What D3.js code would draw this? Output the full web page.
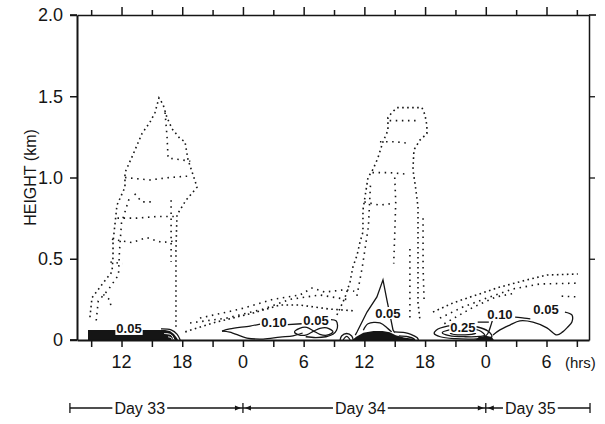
<!DOCTYPE html>
<html>
<head>
<meta charset="utf-8">
<script src="https://cdn.jsdelivr.net/npm/d3@7"></script>
<style>
  html, body { margin: 0; padding: 0; background: #fff; }
  svg { display: block; font-family: "Liberation Sans", Arial, sans-serif; }
</style>
</head>
<body>
<svg id="chart" width="605" height="424"></svg>
<script>
// ---- axis values (time in hours from 00 h of Day 33, height in km) ----
const heightTicks = [0, 0.5, 1.0, 1.5, 2.0];
const heightLabels = ["0", "0.5", "1.0", "1.5", "2.0"];
const hourTicks = d3.range(9, 58, 3);
const hourLabelAt = [12, 18, 24, 30, 36, 42, 48, 54];
const hourLabels = ["12", "18", "0", "6", "12", "18", "0", "6"];

const dayNames = ["Day 33", "Day 34", "Day 35"];
const dayEdges = [6.9, 24, 48, 58.3];
const dayNameAt = [13.8, 35.6, 52.4];

// ---- dotted boundaries: [hour, km]; first line of each group is the outline ----
const plumeDay33 = [
  [[8.88,0.14],[9.08,0.26],[10.17,0.35],[11.06,0.42],[11.16,0.51],[11.16,0.60],[11.55,0.83],[12.34,0.94],[12.34,1.03],[13.13,1.14],[14.02,1.27],[14.81,1.34],[15.31,1.40],[15.70,1.49],[16.10,1.45],[16.49,1.37],[16.99,1.30],[17.78,1.24],[18.27,1.22],[18.57,1.11],[19.26,0.98],[19.46,0.94],[18.37,0.86],[17.48,0.77],[17.38,0.55],[17.38,0.31],[17.38,0.06]],
  [[9.5,0.12],[9.7,0.24],[10.7,0.31],[11.7,0.40],[11.8,0.55],[12.0,0.72],[12.8,0.88]],
  [[12.34,1.00],[14.81,0.985],[16.79,1.00],[18.9,1.01]],
  [[16.3,1.40],[16.5,1.25],[16.6,1.12],[17.8,1.11],[18.8,1.10]],
  [[11.6,0.75],[13.5,0.75],[15.5,0.76],[17.4,0.76]],
  [[11.05,0.62],[13.0,0.60],[14.5,0.63],[16.0,0.60],[17.4,0.61]],
  [[16.9,0.86],[16.9,0.70],[16.9,0.48]],
  [[10.2,0.28],[10.8,0.25],[11.0,0.20]],
  [[10.9,0.48],[12.1,0.47]],
  [[13.3,0.90],[14.0,0.85],[15.0,0.85]]
];
const layerDay34am = [
  [[18.3,0.05],[21.04,0.105],[24.99,0.166],[27.66,0.215],[29.64,0.215],[32.6,0.19],[34.9,0.18]],
  [[18.77,0.105],[22.42,0.135],[25.98,0.19],[28.65,0.25],[31.6,0.277],[34.58,0.246]],
  [[19.75,0.135],[23.7,0.19],[26.97,0.25],[29.64,0.277],[30.82,0.32],[32.1,0.295],[34.1,0.31],[35.0,0.30]]
];
const plumeDay34 = [
  [[33.29,0.154],[34.08,0.26],[34.58,0.357],[34.87,0.45],[35.27,0.52],[35.56,0.60],[35.86,0.665],[35.86,0.80],[36.16,0.92],[36.36,1.00],[36.85,1.05],[37.34,1.12],[37.84,1.22],[38.33,1.29],[38.33,1.37],[38.73,1.40],[39.22,1.43],[40.51,1.43],[41.69,1.43],[41.99,1.385],[42.18,1.32],[42.18,1.27],[41.49,1.23],[40.9,1.17],[40.8,1.05],[41.1,0.92],[41.3,0.82],[41.3,0.615],[41.3,0.43],[41.3,0.23],[41.5,0.12]],
  [[38.5,1.35],[40.0,1.35],[41.5,1.35]],
  [[37.54,1.22],[39.0,1.22],[40.5,1.21]],
  [[39.0,1.0],[39.1,0.85],[39.0,0.65],[38.9,0.47]],
  [[36.8,1.03],[38.5,1.03],[40.3,1.02]],
  [[40.5,0.56],[40.5,0.35],[40.5,0.12]],
  [[36.6,0.95],[36.4,0.70],[35.8,0.45],[35.2,0.25]],
  [[36.0,0.85],[37.5,0.83],[38.8,0.84]],
  [[41.8,0.75],[41.8,0.45],[41.9,0.25]]
];
const layerDay35 = [
  [[42.78,0.172],[44.76,0.228],[46.73,0.27],[49.4,0.326],[52.07,0.37],[54.04,0.40],[57.1,0.406]],
  [[43.47,0.135],[45.74,0.203],[48.11,0.258],[50.68,0.314],[53.35,0.345],[57.1,0.35]],
  [[43.9,0.10],[46.7,0.20],[49.0,0.265],[51.0,0.29]],
  [[55.5,0.27],[57.1,0.265]]
];

// ---- solid regions near the ground ----
const fillDay33 = [[8.69,0],[8.69,0.062],[16.3,0.062],[16.79,0.055],[17.18,0.037],[17.48,0.012],[17.58,0]];
const fillDay34 = [[34.8,0],[35.2,0.02],[35.9,0.045],[36.9,0.055],[37.8,0.055],[38.5,0.048],[39.1,0.03],[39.9,0.016],[40.8,0.008],[41.0,0]];
const fillDay35 = [[47.0,0],[47.3,0.018],[48.0,0.026],[48.6,0.018],[48.8,0]];

// ---- contour lines ----
const contourOpen = [
  [[15.9,0.068],[16.9,0.062],[17.5,0.035],[17.8,0]],
  [[21.93,0.055],[22.7,0.068],[24.7,0.086],[25.7,0.098]],
  [[21.93,0.055],[22.7,0.049],[24.4,0.012],[26.0,0.006],[27.66,0.018],[28.95,0.025],[29.9,0.043]],
  [[28.4,0.095],[29.8,0.10]],
  [[32.7,0.125],[33.2,0.118],[33.35,0.09],[33.25,0.06],[32.9,0.035],[32.2,0.02],[31.2,0.015],[30.2,0.02]],
  [[33.6,0],[33.75,0.025],[34.25,0.04],[34.75,0.025],[34.9,0]],
  [[33.9,0],[34.25,0.022],[34.6,0]],
  [[35.9,0.06],[36.36,0.1],[37.54,0.105],[38.33,0.07],[38.7,0.05]],
  [[39.0,0.05],[40.0,0.045],[40.6,0.035],[41.2,0.015],[41.35,0]],
  [[39.4,0.025],[40.3,0.02],[40.9,0.008],[41.0,0]],
  [[47.2,0.11],[48.3,0.11]],
  [[48.7,0.13],[48.45,0.08],[48.2,0.04],[47.9,0.02]],
  [[48.71,0.031],[49.4,0.062],[50.38,0.092],[51.37,0.118],[52.66,0.11],[54.04,0.075],[55.03,0.031],[55.6,0.05],[56.1,0.08],[56.51,0.111],[56.51,0.154],[55.82,0.172]],
  [[50.9,0.141],[51.8,0.135],[52.4,0.13]]
];
const contourPeak = [[35.1,0.03],[35.27,0.049],[36.26,0.172],[37.24,0.265],[37.84,0.37],[38.23,0.246],[38.53,0.154],[38.83,0.062],[39.0,0.045]];
const contourClosed = [
  [[29.1,0.05],[29.6,0.072],[30.3,0.078],[31.0,0.055],[31.6,0.035],[32.3,0.03],[32.9,0.05],[32.3,0.075],[31.6,0.072],[31.0,0.055],[30.3,0.032],[29.6,0.03]],
  [[48.6,0.02],[48.2,0.055],[47.2,0.08],[45.7,0.092],[44.2,0.085],[43.1,0.06],[42.9,0.04],[43.5,0.02],[45.0,0.008],[46.8,0.006],[48.2,0.01]],
  [[47.9,0.03],[47.3,0.06],[45.8,0.07],[44.4,0.062],[43.7,0.045],[44.4,0.027],[46.0,0.02],[47.4,0.022]],
  [[47.0,0.04],[46.0,0.052],[44.9,0.048],[44.5,0.04],[45.2,0.032],[46.3,0.033]]
];
const innerArcsDay33 = [
  [[16.2,0.04],[16.9,0.032],[17.2,0]],
  [[16.6,0.02],[16.95,0.012],[17.0,0]]
];
const contourLabelText = ["0.05", "0.10", "0.05", "0.05", "0.25", "0.10", "0.05"];
const contourLabelHour = [12.74, 27.07, 31.22, 38.33, 45.74, 49.4, 53.95];
const contourLabelKm = [0.068, 0.105, 0.123, 0.166, 0.08, 0.154, 0.185];

// ---- drawing ----
const svg = d3.select("#chart");
const ink = "#151515";
svg.append("rect").attr("width", 605).attr("height", 424).attr("fill", "#fff");

const x = d3.scaleLinear().domain([7.6, 58.2]).range([77, 589]);
const y = d3.scaleLinear().domain([0, 2]).range([340, 15]);

const straight = d3.line().x(d => x(d[0])).y(d => y(d[1]));
const smooth = d3.line().x(d => x(d[0])).y(d => y(d[1])).curve(d3.curveCatmullRom.alpha(0.5));
const smoothClosed = d3.line().x(d => x(d[0])).y(d => y(d[1])).curve(d3.curveCatmullRomClosed.alpha(0.5));

// stippled boundaries: outlines a bit denser than the inner rows
const dotted = svg.append("g").attr("fill", "none").attr("stroke", ink);
[plumeDay33, layerDay34am, plumeDay34, layerDay35].forEach(group => {
  dotted.selectAll(null).data(group).enter().append("path")
    .attr("d", straight)
    .attr("stroke-width", 1.6)
    .attr("stroke-dasharray", (d, i) => i === 0 ? "1.6 3.4" : "1.5 4.6");
});

// solid black areas
svg.append("g").attr("fill", ink).selectAll("path")
  .data([fillDay33, fillDay34, fillDay35]).enter().append("path").attr("d", straight);

// contours
const lines = svg.append("g").attr("fill", "none").attr("stroke", ink).attr("stroke-width", 1.3);
lines.selectAll(".open").data(contourOpen).enter().append("path").attr("d", smooth);
lines.selectAll(".closed").data(contourClosed).enter().append("path").attr("d", smoothClosed);
lines.append("path").datum(contourPeak).attr("d", straight);
svg.append("g").attr("fill", "none").attr("stroke", "#fff").attr("stroke-width", 1)
  .selectAll("path").data(innerArcsDay33).enter().append("path").attr("d", smooth);

// contour labels on white
const labelG = svg.append("g");
contourLabelText.forEach((txt, i) => {
  const g = labelG.append("g");
  const t = g.append("text")
    .attr("x", x(contourLabelHour[i])).attr("y", y(contourLabelKm[i]))
    .attr("text-anchor", "middle").attr("dominant-baseline", "central")
    .attr("font-size", 13).attr("font-weight", "bold").attr("fill", ink)
    .text(txt);
  const b = t.node().getBBox();
  g.insert("rect", "text")
    .attr("x", b.x - 1).attr("y", b.y + 1.5).attr("width", b.width + 2).attr("height", b.height - 3)
    .attr("fill", "#fff");
});

// frame: left axis
const axisL = svg.append("g").attr("transform", `translate(${x.range()[0]},0)`)
  .call(d3.axisLeft(y).tickValues(heightTicks)
    .tickFormat((d, i) => heightLabels[i]).tickSize(7).tickSizeOuter(0).tickPadding(7));
axisL.select(".domain").attr("stroke", ink).attr("stroke-width", 2);
axisL.selectAll(".tick line").attr("stroke", ink).attr("stroke-width", 1.5);
axisL.selectAll(".tick text").attr("font-size", 18).attr("fill", ink)
  .attr("font-family", "Liberation Sans, Arial, sans-serif");

// right axis
const axisR = svg.append("g").attr("transform", `translate(${x.range()[1]},0)`)
  .call(d3.axisRight(y).tickValues([0.5, 1.0, 1.5]).tickFormat("").tickSize(6).tickSizeOuter(0));
axisR.select(".domain").attr("stroke", ink).attr("stroke-width", 1.5);
axisR.selectAll(".tick line").attr("stroke", ink).attr("stroke-width", 1.3);

// bottom axis
const axisB = svg.append("g").attr("transform", `translate(0,${y(0)})`)
  .call(d3.axisBottom(x).tickValues(hourTicks).tickFormat("").tickSize(7).tickSizeOuter(0));
axisB.select(".domain").attr("stroke", ink).attr("stroke-width", 1.8);
axisB.selectAll(".tick line").attr("stroke", ink).attr("stroke-width", 1.5);
svg.append("line").attr("x1", 70).attr("x2", x.range()[0]).attr("y1", y(0)).attr("y2", y(0))
  .attr("stroke", ink).attr("stroke-width", 1.8);
svg.append("g").selectAll("text").data(hourLabels).enter().append("text")
  .attr("x", (d, i) => x(hourLabelAt[i])).attr("y", y(0) + 22)
  .attr("text-anchor", "middle").attr("dominant-baseline", "central")
  .attr("font-size", 18).attr("fill", ink).text(d => d);
svg.append("text").attr("x", 565).attr("y", y(0) + 22).attr("dominant-baseline", "central")
  .attr("font-size", 15).attr("fill", ink).text("(hrs)");

// top axis
const axisT = svg.append("g").attr("transform", `translate(0,${y(2)})`)
  .call(d3.axisTop(x).tickValues(hourTicks).tickFormat("").tickSize(5).tickSizeOuter(0));
axisT.select(".domain").attr("stroke", ink).attr("stroke-width", 1.6);
axisT.selectAll(".tick line").attr("stroke", ink).attr("stroke-width", 1.5)
  .attr("y2", d => d % 6 === 0 ? -8 : -5);
svg.append("line").attr("x1", 70).attr("x2", x.range()[0]).attr("y1", y(2)).attr("y2", y(2))
  .attr("stroke", ink).attr("stroke-width", 1.6);
svg.append("line").attr("x1", x.range()[1]).attr("x2", 596).attr("y1", y(2)).attr("y2", y(2))
  .attr("stroke", ink).attr("stroke-width", 1.6);

// y title
svg.append("text").attr("transform", `translate(30,${(y(0) + y(2)) / 2}) rotate(-90)`)
  .attr("text-anchor", "middle").attr("dominant-baseline", "central")
  .attr("font-size", 16).attr("fill", ink).text("HEIGHT (km)");

// day bar
const barY = 408;
const bar = svg.append("g").attr("stroke", ink).attr("stroke-width", 1.3);
bar.append("line").attr("x1", x(dayEdges[0])).attr("x2", x(dayEdges[3])).attr("y1", barY).attr("y2", barY);
dayEdges.forEach(e => {
  bar.append("line").attr("x1", x(e)).attr("x2", x(e)).attr("y1", barY - 5).attr("y2", barY + 5);
});
[dayEdges[1], dayEdges[2]].forEach(e => {
  const cx = x(e);
  svg.append("path").attr("fill", ink)
    .attr("d", `M${cx - 2},${barY} L${cx - 8},${barY - 2.5} L${cx - 8},${barY + 2.5} Z`);
  svg.append("path").attr("fill", ink)
    .attr("d", `M${cx + 2},${barY} L${cx + 8},${barY - 2.5} L${cx + 8},${barY + 2.5} Z`);
});
dayNames.forEach((name, i) => {
  const g = svg.append("g");
  const t = g.append("text").attr("x", x(dayNameAt[i])).attr("y", barY)
    .attr("text-anchor", "middle").attr("dominant-baseline", "central")
    .attr("font-size", 16).attr("fill", ink).text(name);
  const b = t.node().getBBox();
  g.insert("rect", "text").attr("x", b.x - 2).attr("y", b.y).attr("width", b.width + 4)
    .attr("height", b.height).attr("fill", "#fff");
});
</script>
</body>
</html>
